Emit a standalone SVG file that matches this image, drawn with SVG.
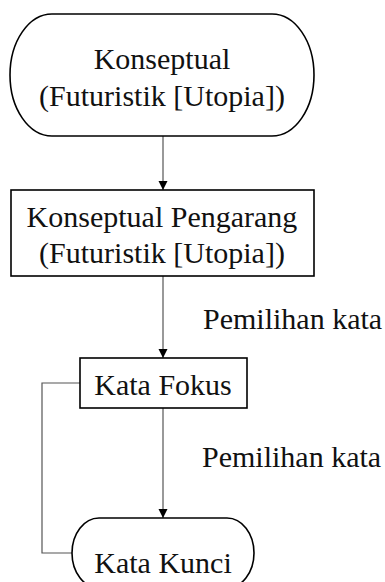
<svg xmlns="http://www.w3.org/2000/svg" width="385" height="582" viewBox="0 0 385 582">
<defs>
<marker id="arr" markerWidth="10" markerHeight="10" refX="9" refY="5" orient="auto" markerUnits="userSpaceOnUse">
<path d="M0,0.5 L9,5 L0,9.5 Z" fill="#000"/>
</marker>
<style>
.node{fill:#fff;stroke:#000;stroke-width:1.6}
.t{font-family:"Liberation Serif","Times New Roman",serif;font-size:30px;fill:#111;text-anchor:middle}
.lbl{font-family:"Liberation Serif","Times New Roman",serif;font-size:30px;fill:#111}
.c{fill:none;stroke:#555;stroke-width:1.2}
</style>
</defs>
<rect width="385" height="582" fill="#fff"/>
<g id="connectors">
<line class="c" x1="163" y1="136" x2="163" y2="190" marker-end="url(#arr)"/>
<line class="c" x1="163" y1="276" x2="163" y2="358" marker-end="url(#arr)"/>
<line class="c" x1="163" y1="408" x2="163" y2="518" marker-end="url(#arr)"/>
<polyline class="c" points="80,383 42,383 42,553 73,553"/>
<text class="lbl" x="203" y="329">Pemilihan kata</text>
<text class="lbl" x="202" y="467">Pemilihan kata</text>
</g>
<g id="node-konseptual">
<rect class="node" x="10" y="14" width="304" height="122" rx="42" ry="61"/>
<text class="t" x="162" y="69">Konseptual</text>
<text class="t" x="162" y="106">(Futuristik [Utopia])</text>
</g>
<g id="node-pengarang">
<rect class="node" x="11" y="190" width="303" height="86"/>
<text class="t" x="162" y="227">Konseptual Pengarang</text>
<text class="t" x="162" y="263">(Futuristik [Utopia])</text>
</g>
<g id="node-fokus">
<rect class="node" x="80" y="358" width="167" height="50"/>
<text class="t" x="163" y="395">Kata Fokus</text>
</g>
<g id="node-kunci">
<rect class="node" x="72" y="518" width="182" height="70" rx="27" ry="35"/>
<text class="t" x="163" y="573">Kata Kunci</text>
</g>
</svg>
